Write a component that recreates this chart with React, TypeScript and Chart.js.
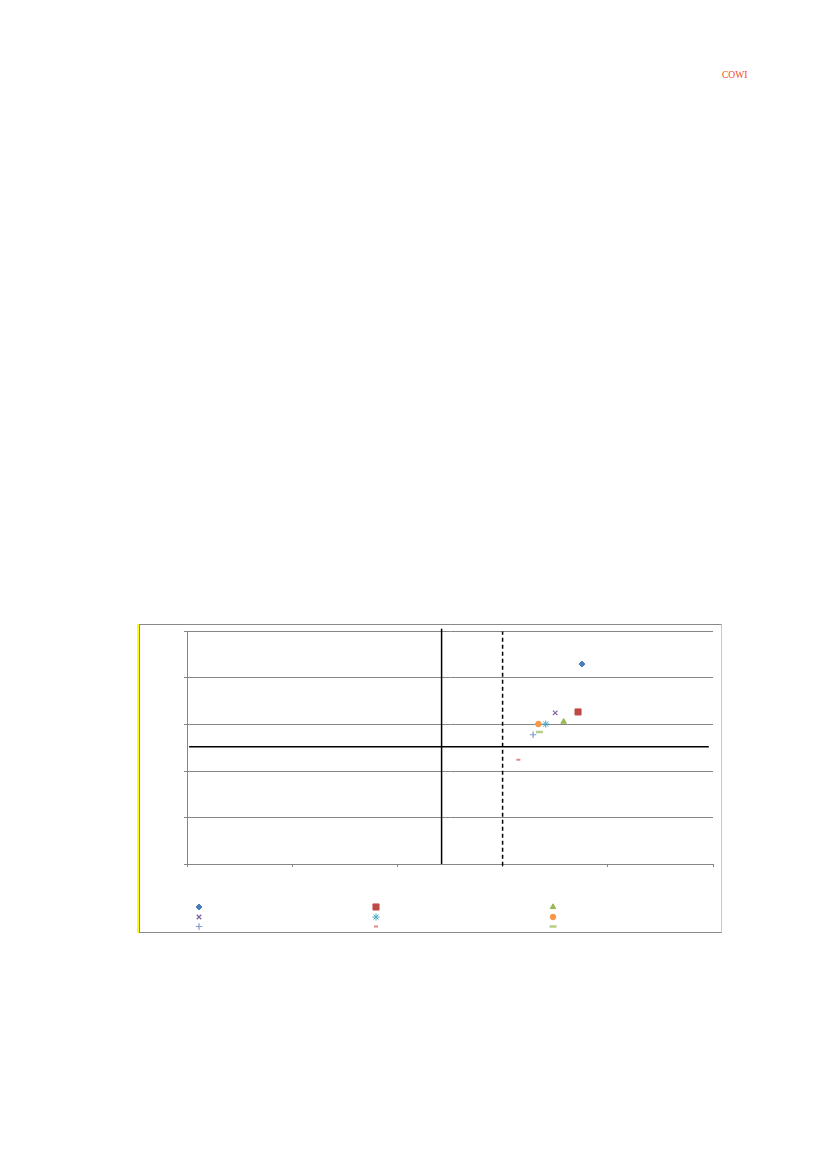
import { useEffect, useRef } from "react";
import { Chart, registerables } from "chart.js";
import { drawPoint } from "chart.js/helpers";

Chart.register(...registerables);

// marker series (no names are shown in the original legend)
const seriesColors = ["#4A7EBB", "#BE4B48", "#98B954", "#7D60A0", "#46AAC5", "#F79646", "#7D9BD0", "#E1898A", "#B5CE85"];
const seriesStyles = ["rectRot", "rect", "triangle", "crossRot", "star", "circle", "cross", "line", "line"];
const seriesRadius = [3, 4.3, 3.2, 3.2, 3.6, 2.8, 3.2, 2, 3.5];
const seriesBorder = [1, 1, 1, 1.2, 1, 1, 1.2, 2, 2.5];
const seriesX = [3.755, 3.717, 3.58, 3.5, 3.41, 3.34, 3.29, 3.15, 3.35];
const seriesY = [4.3, 3.27, 3.06, 3.25, 3.01, 3.01, 2.78, 2.24, 2.84];

// reference lines
const solidVX = [2.42, 2.42];
const solidVY = [0, 5.06];
const solidHX = [0.02, 4.96];
const solidHY = [2.52, 2.52];
const dashedVX = [3, 3];
const dashedVY = [-0.04, 5];

const axisMin = 0;
const axisMax = 5;

const legendPlugin = {
  id: "markerLegend",
  afterDraw(chart: any) {
    const ctx = chart.ctx;
    const colX = [59, 236, 413];
    const rowY = [282, 292, 301.5];
    ctx.save();
    seriesColors.forEach((c, i) => {
      const x = colX[i % 3];
      const y = rowY[Math.floor(i / 3)];
      ctx.fillStyle = c;
      ctx.strokeStyle = c;
      ctx.lineWidth = seriesBorder[i];
      drawPoint(ctx, { pointStyle: seriesStyles[i], radius: seriesRadius[i], rotation: 0, borderWidth: seriesBorder[i] } as any, x, y);
    });
    ctx.restore();
  },
};

const toPts = (xs: number[], ys: number[]) => xs.map((x, i) => ({ x, y: ys[i] }));

const App = () => {
  const canvasRef = useRef<any>(null);

  useEffect(() => {
    const markerSets = seriesColors.map((c, i) => ({
      data: [{ x: seriesX[i], y: seriesY[i] }],
      pointStyle: seriesStyles[i],
      pointRadius: seriesRadius[i],
      pointBorderWidth: seriesBorder[i],
      backgroundColor: c,
      borderColor: c,
      showLine: false,
    }));
    const lineSet = (xs: number[], ys: number[], dash: number[]) => ({
      data: toPts(xs, ys),
      showLine: true,
      borderColor: "#000000",
      borderWidth: 1.5,
      borderDash: dash,
      pointRadius: 0,
      clip: false as any,
    });

    const chart = new Chart(canvasRef.current, {
      type: "scatter",
      data: {
        datasets: [
          lineSet(solidVX, solidVY, []),
          lineSet(solidHX, solidHY, []),
          lineSet(dashedVX, dashedVY, [4, 3]),
          ...markerSets,
        ] as any,
      },
      options: {
        animation: false,
        responsive: false,
        layout: { padding: { left: 44, top: 5, right: 8, bottom: 65 } },
        plugins: { legend: { display: false }, tooltip: { enabled: false } },
        scales: {
          x: {
            type: "linear",
            min: axisMin,
            max: axisMax,
            ticks: { display: false, stepSize: 1 },
            grid: { drawOnChartArea: false, drawTicks: true, tickLength: 3, color: "#868686" },
            border: { color: "#868686" },
          },
          y: {
            type: "linear",
            min: axisMin,
            max: axisMax,
            ticks: { display: false, stepSize: 1 },
            grid: { drawOnChartArea: true, drawTicks: true, tickLength: 3, color: "#868686" },
            border: { color: "#868686" },
          },
        },
      },
      plugins: [legendPlugin],
    });

    return () => {
      chart.destroy();
    };
  }, []);

  return (
    <div style={{ position: "absolute", left: 0, top: 0, width: 827, height: 1170, background: "#ffffff" }}>
      <div
        style={{
          position: "absolute",
          left: 722,
          top: 70.7,
          fontFamily: "'Liberation Serif', serif",
          fontSize: "9.5px",
          lineHeight: 1,
          color: "#F0461A",
        }}
      >
        COWI
      </div>
      <div
        style={{
          position: "absolute",
          left: 139,
          top: 624,
          width: 581,
          height: 307,
          borderTop: "1px solid #8a8a8a",
          borderBottom: "1px solid #8a8a8a",
          borderLeft: "1px solid #8a8a8a",
          borderRight: "1px solid #d6d65a",
          boxShadow: "-2px 0 0 #ffff00",
        }}
      >
        <canvas ref={canvasRef} width={581} height={307} style={{ display: "block" }}></canvas>
      </div>
    </div>
  );
};

export default App;
